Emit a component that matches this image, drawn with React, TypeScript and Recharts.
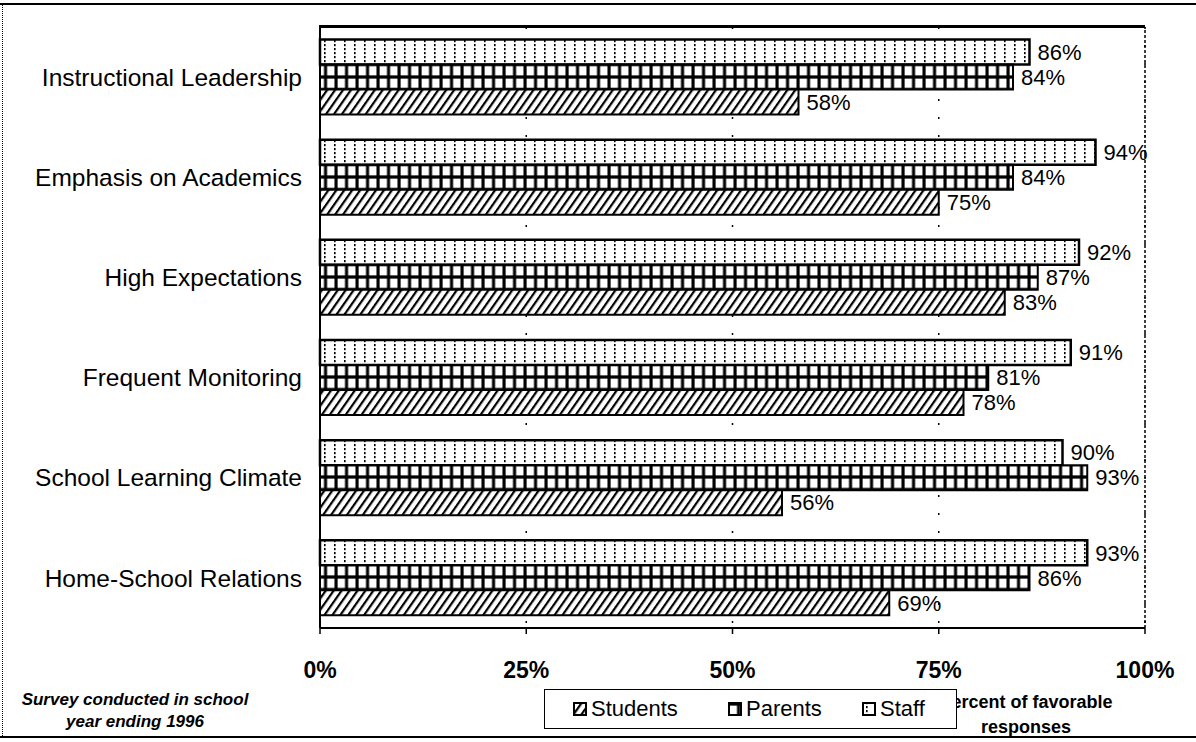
import React from 'react';
import {
  BarChart,
  Bar,
  XAxis,
  YAxis,
  CartesianGrid,
  ReferenceLine,
  LabelList,
} from 'recharts';

// Survey categories, top to bottom
const categories = [
  'Instructional Leadership',
  'Emphasis on Academics',
  'High Expectations',
  'Frequent Monitoring',
  'School Learning Climate',
  'Home-School Relations',
];

// Percent of favorable responses per group
const staffValues = [86, 94, 92, 91, 90, 93];
const parentValues = [84, 84, 87, 81, 93, 86];
const studentValues = [58, 75, 83, 78, 56, 69];

const xTicks = [0, 25, 50, 75, 100];

const legendItems = [
  { name: 'Students', pattern: 'url(#hatchStudents)', left: 28 },
  { name: 'Parents', pattern: 'url(#gridParents)', left: 183 },
  { name: 'Staff', pattern: 'url(#dotsStaff)', left: 317 },
];

const FONT = '"Liberation Sans", Arial, Helvetica, sans-serif';

const W = 1196;
const H = 742;
const MARGIN = { top: 27, right: 51, left: 0, bottom: 54 };
const Y_AXIS_W = 320;

const chartData = categories.map((name, i) => ({
  name,
  staff: staffValues[i],
  parents: parentValues[i],
  students: studentValues[i],
}));

const pct = (v: number) => `${v}%`;

export default function App() {
  return (
    <div
      style={{
        position: 'absolute',
        left: 0,
        top: 0,
        width: W,
        height: H,
        background: '#fff',
        fontFamily: FONT,
        color: '#000',
        overflow: 'hidden',
      }}
    >
      {/* outer page frame */}
      <div style={{ position: 'absolute', left: 0, top: 3, width: W, height: 2, background: '#000' }} />
      <div style={{ position: 'absolute', left: 0, top: 736, width: W, height: 2, background: '#000' }} />
      <div style={{ position: 'absolute', left: 2, top: 5, width: 0, height: 731, borderLeft: '1.5px dotted #000' }} />

      <BarChart
        width={W}
        height={H}
        data={chartData}
        layout="vertical"
        margin={MARGIN}
        barCategoryGap="12.5%"
        barGap={0}
        style={{ position: 'absolute', left: 0, top: 0 }}
      >
        <defs>
          <pattern id="dotsStaff" patternUnits="userSpaceOnUse" width="10" height="4">
            <rect width="10" height="4" fill="#fff" />
            <rect x="4" y="0" width="1.6" height="2.2" fill="#000" />
          </pattern>
          <pattern id="gridParents" patternUnits="userSpaceOnUse" width="10.5" height="12.5" y="2">
            <rect width="10.5" height="12.5" fill="#000" />
            <rect x="1.6" y="1.6" width="7.4" height="9.3" fill="#fff" />
          </pattern>
          <pattern
            id="hatchStudents"
            patternUnits="userSpaceOnUse"
            width="6.5"
            height="6.5"
            patternTransform="rotate(35)"
          >
            <rect width="6.5" height="6.5" fill="#fff" />
            <line x1="1" y1="0" x2="1" y2="6.5" stroke="#000" strokeWidth="2.4" />
          </pattern>
        </defs>

        <CartesianGrid horizontal={false} stroke="#000" strokeWidth={1.5} strokeDasharray="2 16" />
        <ReferenceLine x={100} stroke="#000" strokeWidth={1.5} strokeDasharray="3 2" />

        <XAxis
          type="number"
          domain={[0, 100]}
          ticks={xTicks}
          tickFormatter={pct}
          height={60}
          tickSize={6}
          tickMargin={28}
          axisLine={{ stroke: '#000', strokeWidth: 2 }}
          tickLine={{ stroke: '#000', strokeWidth: 1.5 }}
          tick={{ fill: '#000', fontSize: 23, fontWeight: 'bold', fontFamily: FONT }}
        />
        <YAxis
          type="category"
          dataKey="name"
          width={Y_AXIS_W}
          tickLine={false}
          tickSize={6}
          tickMargin={12}
          axisLine={{ stroke: '#000', strokeWidth: 2 }}
          tick={{ fill: '#000', fontSize: 24.5, fontFamily: FONT }}
        />

        <Bar
          dataKey="staff"
          name="Staff"
          fill="url(#dotsStaff)"
          stroke="#000"
          strokeWidth={2.5}
          isAnimationActive={false}
        >
          <LabelList
            dataKey="staff"
            position="right"
            offset={8}
            formatter={pct}
            fill="#000"
            fontSize={22}
            fontFamily={FONT}
          />
        </Bar>
        <Bar
          dataKey="parents"
          name="Parents"
          fill="url(#gridParents)"
          stroke="#000"
          strokeWidth={2}
          isAnimationActive={false}
        >
          <LabelList
            dataKey="parents"
            position="right"
            offset={8}
            formatter={pct}
            fill="#000"
            fontSize={22}
            fontFamily={FONT}
          />
        </Bar>
        <Bar
          dataKey="students"
          name="Students"
          fill="url(#hatchStudents)"
          stroke="#000"
          strokeWidth={2}
          isAnimationActive={false}
        >
          <LabelList
            dataKey="students"
            position="right"
            offset={8}
            formatter={pct}
            fill="#000"
            fontSize={22}
            fontFamily={FONT}
          />
        </Bar>
      </BarChart>

      {/* top edge of the plot frame */}
      <div
        style={{
          position: 'absolute',
          left: MARGIN.left + Y_AXIS_W - 1,
          top: MARGIN.top - 2,
          width: W - MARGIN.right - MARGIN.left - Y_AXIS_W + 1,
          height: 3,
          background: '#000',
        }}
      />

      {/* footnote */}
      <div
        style={{
          position: 'absolute',
          left: 5,
          top: 689,
          width: 260,
          textAlign: 'center',
          fontSize: 17,
          lineHeight: '22px',
          fontWeight: 'bold',
          fontStyle: 'italic',
        }}
      >
        Survey conducted in school
        <br />
        year ending 1996
      </div>

      {/* axis title */}
      <div
        style={{
          position: 'absolute',
          left: 906,
          top: 690,
          width: 240,
          textAlign: 'center',
          fontSize: 18,
          lineHeight: '25px',
          fontWeight: 'bold',
        }}
      >
        Percent of favorable
        <br />
        responses
      </div>

      {/* legend */}
      <div
        style={{
          position: 'absolute',
          left: 544,
          top: 689,
          width: 413,
          height: 40,
          border: '1.5px solid #000',
          background: '#fff',
          boxSizing: 'border-box',
        }}
      >
        {legendItems.map((item) => (
          <div
            key={item.name}
            style={{
              position: 'absolute',
              left: item.left,
              top: 0,
              height: 37,
              display: 'flex',
              alignItems: 'center',
              fontSize: 22,
            }}
          >
            <svg width={14} height={14} style={{ marginRight: 4 }}>
              <rect x={1} y={1} width={12} height={12} fill={item.pattern} stroke="#000" strokeWidth={2} />
            </svg>
            <span>{item.name}</span>
          </div>
        ))}
      </div>
    </div>
  );
}
